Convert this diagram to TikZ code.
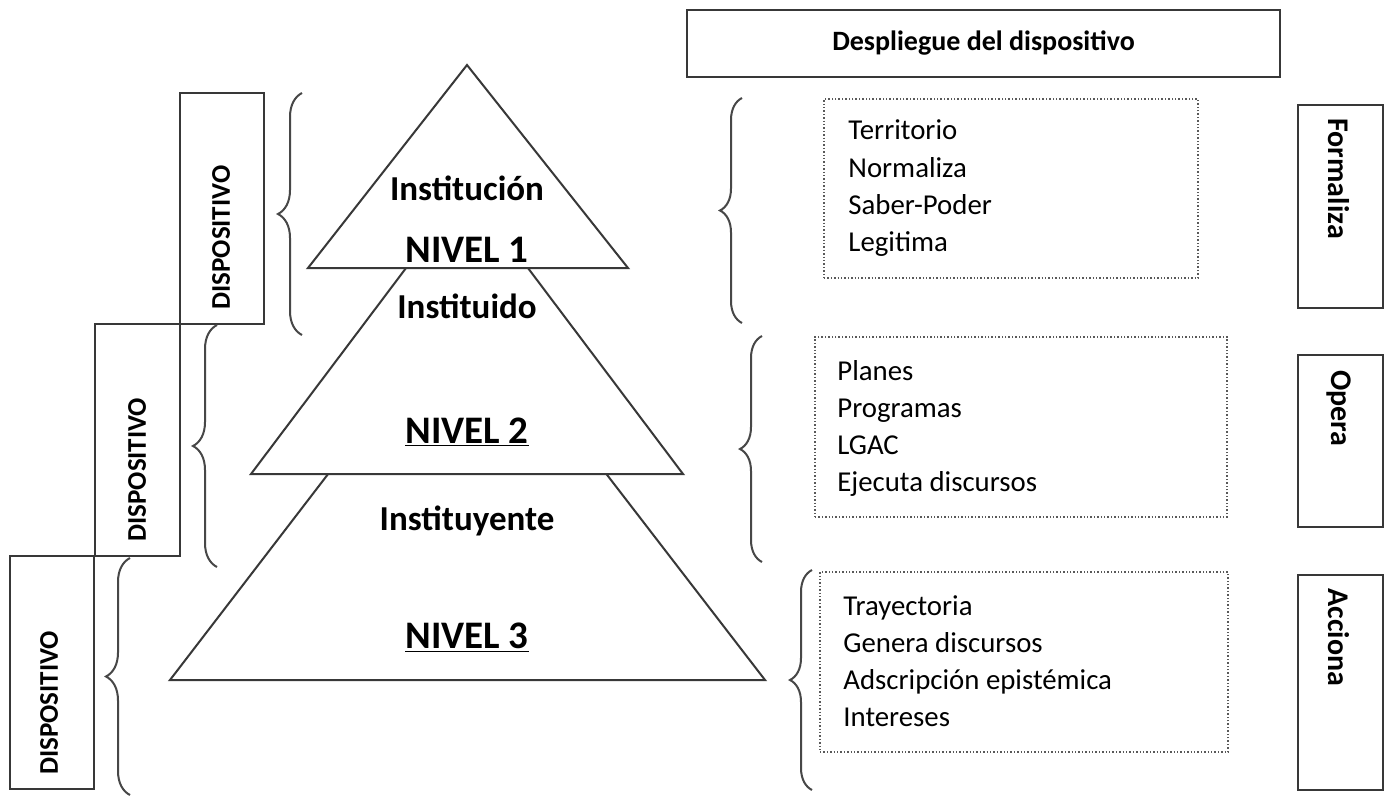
\documentclass[tikz,border=0pt]{standalone}
\usepackage{fontspec}
\setmainfont{Carlito}
\usetikzlibrary{decorations.pathreplacing}
\begin{document}
\begin{tikzpicture}[x=0.5pt,y=-0.5pt,
  ink/.style={draw=black!78, line width=1pt},
  framebox/.style={ink, inner sep=0pt},
  listbox/.style={draw=black!65, line width=0.7pt, densely dotted, inner sep=0pt},
  level/.style={ink, fill=white, line join=miter},
  curly/.style={draw=black!72, line width=1pt, decorate, decoration={brace, amplitude=#1}},
  vlabel/.style={font=\bfseries\fontsize{13.5}{16}\selectfont, inner sep=0pt, anchor=west, rotate=90},
  rlabel/.style={font=\bfseries\fontsize{15}{18}\selectfont, inner sep=0pt, anchor=west, rotate=-90},
  item/.style={font=\fontsize{14.4}{17}\selectfont, inner sep=0pt, anchor=base west},
  midtext/.style={font=\bfseries\fontsize{17.5}{20}\selectfont, inner sep=0pt, anchor=base},
  leveltext/.style={font=\bfseries\fontsize{19.5}{22}\selectfont, inner sep=0pt, anchor=base}
]
\useasboundingbox (0,0) rectangle (1386,797);
\fill[white] (0,0) rectangle (1386,797);

% header
\node[framebox, minimum width=296.5pt, minimum height=33.5pt,
      font=\bfseries\fontsize{14}{17}\selectfont] (head) at (983.5,43.5) {Despliegue del dispositivo};

% stacked pyramid levels, drawn from the bottom up
\coordinate (t3a) at (467,293); \coordinate (t3l) at (170,680); \coordinate (t3r) at (765,680);
\coordinate (t2a) at (467,187); \coordinate (t2l) at (251,474); \coordinate (t2r) at (683,474);
\coordinate (t1a) at (467,65);  \coordinate (t1l) at (308,268); \coordinate (t1r) at (628,268);
\filldraw[level] (t3a) -- (t3l) -- (t3r) -- cycle;
\filldraw[level] (t2a) -- (t2l) -- (t2r) -- cycle;
\filldraw[level] (t1a) -- (t1l) -- (t1r) -- cycle;

\node[midtext]   (inst)  at (467,200) {Institución};
\node[leveltext] (niv1)  at (467,262) {NIVEL 1};
\node[midtext]   (insd)  at (467,318) {Instituido};
\node[leveltext] (niv2)  at (467,443) {\underline{NIVEL 2}};
\node[midtext]   (insy)  at (467,530) {Instituyente};
\node[leveltext] (niv3)  at (467,648) {\underline{NIVEL 3}};

% left "DISPOSITIVO" boxes
\node[framebox, minimum width=42pt,   minimum height=115.5pt] (d1) at (222,208.5) {};
\node[framebox, minimum width=42.5pt, minimum height=116pt]   (d2) at (137.5,440) {};
\node[framebox, minimum width=42pt,   minimum height=116.5pt] (d3) at (52,672.5) {};
\node[vlabel] (d1t) at (221,310) {DISPOSITIVO};
\node[vlabel] (d2t) at (137,542) {DISPOSITIVO};
\node[vlabel] (d3t) at (49,775) {DISPOSITIVO};

% left braces
\coordinate (lb1t) at (302,93);  \coordinate (lb1b) at (302,335);
\coordinate (lb2t) at (217,325); \coordinate (lb2b) at (217,567);
\coordinate (lb3t) at (130,558); \coordinate (lb3b) at (130,795);
\draw[curly=12pt] (lb1b) -- (lb1t);
\draw[curly=12pt] (lb2b) -- (lb2t);
\draw[curly=12pt] (lb3b) -- (lb3t);

% right braces
\coordinate (rb1t) at (742,98);  \coordinate (rb1b) at (742,323);
\coordinate (rb2t) at (762,336); \coordinate (rb2b) at (762,562);
\coordinate (rb3t) at (812,570); \coordinate (rb3b) at (812,790);
\draw[curly=11pt] (rb1b) -- (rb1t);
\draw[curly=11pt] (rb2b) -- (rb2t);
\draw[curly=11pt] (rb3b) -- (rb3t);

% dotted lists
\node[listbox, minimum width=187pt, minimum height=89.5pt] (l1) at (1011,188.5) {};
\node[listbox, minimum width=206pt, minimum height=90pt]   (l2) at (1021,427) {};
\node[listbox, minimum width=204pt, minimum height=90pt]   (l3) at (1024,662) {};

\node[item] (l1a) at (848,140) {Territorio};
\node[item] (l1b) at (848,177) {Normaliza};
\node[item] (l1c) at (848,214) {Saber-Poder};
\node[item] (l1d) at (848,251) {Legitima};

\node[item] (l2a) at (837,380) {Planes};
\node[item] (l2b) at (837,417) {Programas};
\node[item] (l2c) at (837,454) {LGAC};
\node[item] (l2d) at (837,491) {Ejecuta discursos};

\node[item] (l3a) at (843,615) {Trayectoria};
\node[item] (l3b) at (843,652) {Genera discursos};
\node[item] (l3c) at (843,689) {Adscripción epistémica};
\node[item] (l3d) at (843,726) {Intereses};

% right action boxes
\node[framebox, minimum width=42.5pt, minimum height=101.5pt] (f) at (1340.5,206.5) {};
\node[framebox, minimum width=42.5pt, minimum height=86pt]    (o) at (1340.5,441) {};
\node[framebox, minimum width=42.5pt, minimum height=107.5pt] (a) at (1340.5,682.5) {};
\node[rlabel] (ft) at (1339,118) {Formaliza};
\node[rlabel] (ot) at (1339,370) {Opera};
\node[rlabel] (at) at (1339,588) {Acciona};
\end{tikzpicture}
\end{document}
